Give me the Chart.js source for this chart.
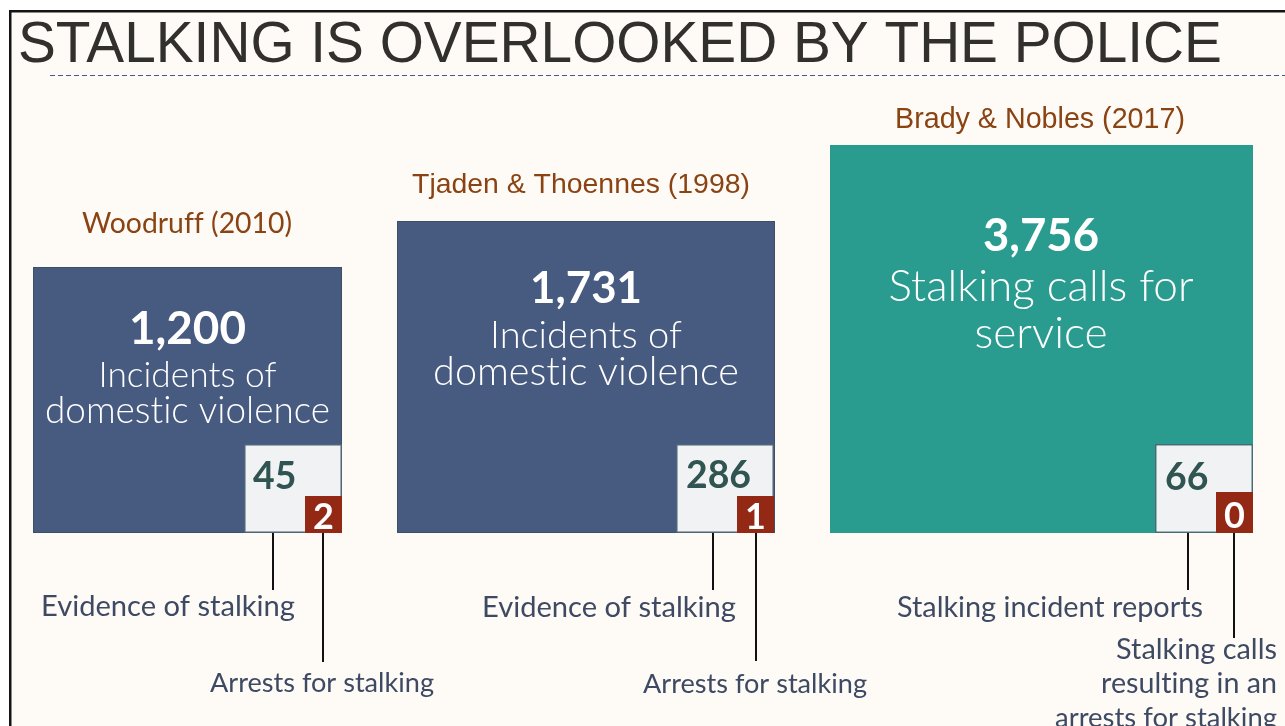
<!DOCTYPE html>
<html>
<head>
<meta charset="utf-8">
<script src="https://cdn.jsdelivr.net/npm/chart.js@4.4.1/dist/chart.umd.min.js"></script>
<style>
html,body{margin:0;padding:0;background:#ffffff;overflow:hidden}
canvas{display:block}
</style>
</head>
<body>
<canvas id="c" width="1285" height="726" style="width:1285px;height:726px"></canvas>
<script>
// ---------------- DATA ----------------
const chartTitle = 'STALKING IS OVERLOOKED BY THE POLICE';
const studies = ['Woodruff (2010)', 'Tjaden & Thoennes (1998)', 'Brady & Nobles (2017)'];
const totals = [1200, 1731, 3756];
const totalLabels = [
  ['Incidents of', 'domestic violence'],
  ['Incidents of', 'domestic violence'],
  ['Stalking calls for', 'service']
];
const stalkingCounts = [45, 286, 66];
const stalkingLabels = ['Evidence of stalking', 'Evidence of stalking', 'Stalking incident reports'];
const arrestCounts = [2, 1, 0];
const arrestLabels = [
  ['Arrests for stalking'],
  ['Arrests for stalking'],
  ['Stalking calls', 'resulting in an', 'arrests for stalking']
];

// ---------------- LAYOUT (layout units, mapped through the chart scales) ----------------
const boxLayout = [
  { box: [33, 267, 342, 533], small: [244, 444, 342, 533], red: [305, 496, 342, 533],
    studyX: 187, studyY: 233, studyFont: 'Lato', studyW: 210,
    cx: 187.5, numY: 344, numW: 117, lineY: [387, 423], lineW: [178, 285],
    smallX: 253, smallY: 489, redY: 529,
    evidX: 273, evidEnd: 590, arrX: 323, arrEnd: 662,
    evidLab: { x: 168, y: 616, w: 254, align: 'center' },
    arrLab: { x: 322, y: [692], w: [224], align: 'center' } },
  { box: [397, 221, 775, 533], small: [676, 444, 774, 533], red: [737, 496, 774, 533],
    studyX: 581, studyY: 193, studyFont: 'Liberation Sans', studyW: 338,
    cx: 586, numY: 303, numW: 112, lineY: [348, 385], lineW: [192, 306],
    smallX: 686, smallY: 488, redY: 529,
    evidX: 713, evidEnd: 590, arrX: 756, arrEnd: 661,
    evidLab: { x: 609, y: 617, w: 254, align: 'center' },
    arrLab: { x: 755, y: [693], w: [224], align: 'center' } },
  { box: [830, 145, 1253, 533], small: [1155, 444, 1253, 533], red: [1216, 492, 1253, 533],
    studyX: 1040, studyY: 128, studyFont: 'Liberation Sans', studyW: 290,
    cx: 1041, numY: 251, numW: 116, lineY: [301, 348], lineW: [305, 133],
    smallX: 1165, smallY: 490, redY: 528,
    evidX: 1188, evidEnd: 590, arrX: 1234, arrEnd: 638,
    evidLab: { x: 1050, y: 617, w: 306, align: 'center' },
    arrLab: { x: 1277, y: [659, 693, 727], w: [161, 176, 222], align: 'right' } }
];
const boxColors = ['#475a80', '#475a80', '#2a9c8f'];
const boxBorders = ['#3e5068', '#3e5068', '#2a9c8f'];

// ---------------- DATASETS ----------------
const datasets = [];
studies.forEach((s, i) => {
  const b = boxLayout[i].box;
  datasets.push({
    label: s + ' — ' + totals[i],
    data: [{ x: (b[0] + b[2]) / 2, y: [b[1], b[3]] }],
    barThickness: b[2] - b[0],
    backgroundColor: boxColors[i], borderColor: boxBorders[i], borderWidth: 1,
    borderSkipped: false, inflateAmount: 0, stack: 'all', order: 3
  });
});
datasets.push({
  label: 'Stalking',
  data: boxLayout.map(l => ({ x: (l.small[0] + l.small[2]) / 2, y: [l.small[1], l.small[3]] })),
  barThickness: 98,
  backgroundColor: '#f1f2f3', borderColor: '#4f6775', borderWidth: 1.5,
  borderSkipped: false, inflateAmount: 0, stack: 'all', order: 2
});
datasets.push({
  label: 'Arrests',
  data: boxLayout.map(l => ({ x: (l.red[0] + l.red[2]) / 2, y: [l.red[1], l.red[3]] })),
  barThickness: 37,
  backgroundColor: '#932815', borderColor: '#932815', borderWidth: 0,
  borderSkipped: false, inflateAmount: 0, stack: 'all', order: 1
});

// ---------------- HELPERS ----------------
function noLig(t) { return t.replace(/t(?=i)/g, 't\u200C').replace(/f(?=[fil])/g, 'f\u200C'); }
function fitSize(ctx, text, weight, family, targetW) {
  ctx.font = weight + ' 100px "' + family + '"';
  return 100 * targetW / ctx.measureText(text).width;
}
function setFont(ctx, weight, size, family) {
  ctx.font = weight + ' ' + size.toFixed(2) + 'px "' + family + '"';
}
function fitText(ctx, text, weight, family, targetW, x, y) {
  const t = noLig(text);
  setFont(ctx, weight, fitSize(ctx, t, weight, family, targetW), family);
  ctx.fillText(t, x, y);
}
function fmt(n) { return n.toLocaleString('en-US'); }

const backgroundPlugin = {
  id: 'bg',
  beforeDraw(chart) {
    const ctx = chart.ctx;
    const W = chart.width, H = chart.height;
    ctx.save();
    ctx.fillStyle = '#ffffff';
    ctx.fillRect(0, 0, W, H);
    ctx.fillStyle = '#fefbf6';
    ctx.fillRect(10, 11, W - 10, H - 11);
    ctx.fillStyle = '#141414';
    ctx.fillRect(9, 10, W - 9, 2.5);
    ctx.fillRect(9, 10, 2.5, H - 10);
    // title
    ctx.fillStyle = '#32302d';
    ctx.textBaseline = 'alphabetic';
    ctx.textAlign = 'left';
    fitText(ctx, chartTitle, 'normal', 'Liberation Sans', 1204, 18, 62);
    // dashed rule
    ctx.strokeStyle = '#45568a';
    ctx.lineWidth = 1.2;
    ctx.setLineDash([5, 3]);
    ctx.beginPath();
    ctx.moveTo(50, 75.5);
    ctx.lineTo(W, 75.5);
    ctx.stroke();
    ctx.setLineDash([]);
    ctx.restore();
  }
};

const textPlugin = {
  id: 'texts',
  afterDatasetsDraw(chart) {
    const ctx = chart.ctx;
    const xs = chart.scales.x, ys = chart.scales.y;
    const X = v => xs.getPixelForValue(v), Y = v => ys.getPixelForValue(v);
    ctx.save();
    ctx.textBaseline = 'alphabetic';

    const smallSize = fitSize(ctx, '286', 'bold', 'Lato', 65);

    studies.forEach((s, i) => {
      const L = boxLayout[i];
      // study label
      ctx.fillStyle = '#8a4313';
      ctx.textAlign = 'center';
      fitText(ctx, s, 'normal', L.studyFont, L.studyW, X(L.studyX), Y(L.studyY));

      // big number
      ctx.fillStyle = '#ffffff';
      fitText(ctx, fmt(totals[i]), 'bold', 'Lato', L.numW, X(L.cx), Y(L.numY));

      // description lines
      totalLabels[i].forEach((t, k) => fitText(ctx, t, '300', 'Lato', L.lineW[k], X(L.cx), Y(L.lineY[k])));

      // stalking count
      setFont(ctx, 'bold', smallSize, 'Lato');
      ctx.fillStyle = '#2f5451';
      ctx.textAlign = 'left';
      ctx.fillText(String(stalkingCounts[i]), X(L.smallX), Y(L.smallY));

      // arrest count
      setFont(ctx, 'bold', 36, 'Lato');
      ctx.fillStyle = '#ffffff';
      ctx.textAlign = 'center';
      ctx.fillText(String(arrestCounts[i]), X((L.red[0] + L.red[2]) / 2), Y(L.redY));

      // connector lines
      ctx.strokeStyle = '#111111';
      ctx.lineWidth = 2;
      ctx.beginPath();
      ctx.moveTo(X(L.evidX), Y(L.small[3]));
      ctx.lineTo(X(L.evidX), Y(L.evidEnd));
      ctx.moveTo(X(L.arrX), Y(L.red[3]));
      ctx.lineTo(X(L.arrX), Y(L.arrEnd));
      ctx.stroke();

      // annotation labels
      ctx.fillStyle = '#3e4a64';
      ctx.textAlign = L.evidLab.align;
      fitText(ctx, stalkingLabels[i], 'normal', 'Lato', L.evidLab.w, X(L.evidLab.x), Y(L.evidLab.y));
      ctx.textAlign = L.arrLab.align;
      arrestLabels[i].forEach((t, k) => fitText(ctx, t, 'normal', 'Lato', L.arrLab.w[k], X(L.arrLab.x), Y(L.arrLab.y[k])));
    });
    ctx.restore();
  }
};

new Chart(document.getElementById('c'), {
  type: 'bar',
  data: { datasets },
  options: {
    responsive: false,
    animation: false,
    devicePixelRatio: 1,
    layout: { padding: 0 },
    events: [],
    scales: {
      x: { type: 'linear', min: 0, max: 1285, display: false, offset: false },
      y: { type: 'linear', min: 0, max: 726, reverse: true, display: false, stacked: false }
    },
    plugins: { legend: { display: false }, tooltip: { enabled: false }, title: { display: false } }
  },
  plugins: [backgroundPlugin, textPlugin]
});
</script>
</body>
</html>
